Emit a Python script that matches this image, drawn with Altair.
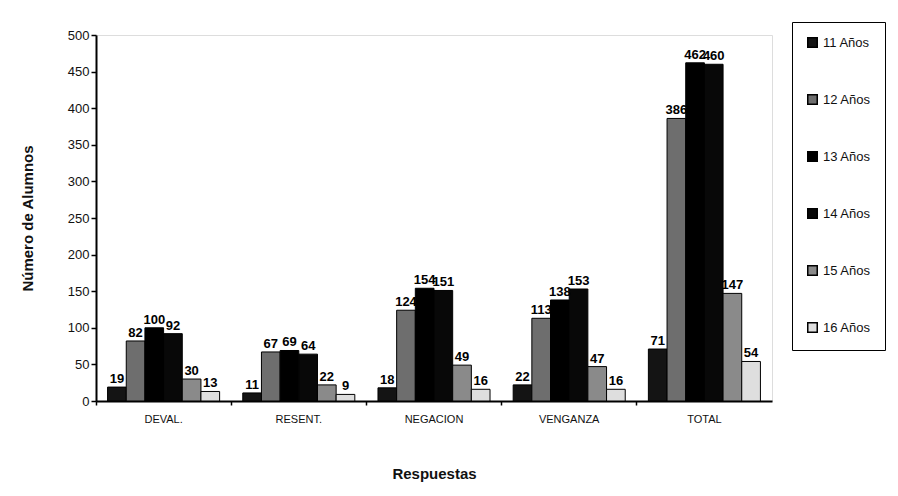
import altair as alt
import pandas as pd

categorias = ["DEVAL.", "RESENT.", "NEGACION", "VENGANZA", "TOTAL"]
series = ["11 Años", "12 Años", "13 Años", "14 Años", "15 Años", "16 Años"]
v11 = [19, 11, 18, 22, 71]
v12 = [82, 67, 124, 113, 386]
v13 = [100, 69, 154, 138, 462]
v14 = [92, 64, 151, 153, 460]
v15 = [30, 22, 49, 47, 147]
v16 = [13, 9, 16, 16, 54]
colores = ["#141414", "#6e6e6e", "#000000", "#080808", "#8a8a8a", "#dedede"]

rows = []
for s, vals in zip(series, [v11, v12, v13, v14, v15, v16]):
    for c, v in zip(categorias, vals):
        rows.append({"Respuesta": c, "Serie": s, "Valor": v})
df = pd.DataFrame(rows)

x = alt.X("Respuesta:N", sort=categorias, title="Respuestas",
          scale=alt.Scale(paddingInner=0, paddingOuter=0),
          axis=alt.Axis(labelAngle=0, labelFont="Liberation Sans", labelFontSize=11,
                        labelColor="#111", labelPadding=8, titleFont="Liberation Sans",
                        titleFontSize=15, titleFontWeight="bold", titleColor="#111",
                        titlePadding=42, domainColor="#000", domainWidth=2,
                        tickColor="#000", tickSize=4, tickWidth=1.5, bandPosition=0))
y = alt.Y("Valor:Q", title="Número de Alumnos",
          scale=alt.Scale(domain=[0, 500]),
          axis=alt.Axis(values=list(range(0, 501, 50)), labelOverlap=False,
                        grid=False, labelFont="Liberation Sans", labelFontSize=13,
                        labelColor="#111", titleFont="Liberation Sans", titleFontSize=15,
                        titleFontWeight="bold", titleColor="#111", titlePadding=32,
                        domainColor="#000", domainWidth=2, tickColor="#000", tickSize=5,
                        tickWidth=1.5))
xoff = alt.XOffset("Serie:N", sort=series,
                   scale=alt.Scale(paddingInner=0, paddingOuter=0.62))
color = alt.Color("Serie:N", sort=series,
                  scale=alt.Scale(domain=series, range=colores),
                  legend=alt.Legend(title=None, orient="none", legendX=696, legendY=-13,
                                    direction="vertical", symbolType="square",
                                    symbolSize=90, symbolStrokeColor="#000",
                                    symbolStrokeWidth=1.5, labelFont="Liberation Sans",
                                    labelFontSize=13, labelColor="#111", rowPadding=40,
                                    padding=14, strokeColor="#000", fillColor="white",
                                    labelLimit=200))

bars = alt.Chart(df).mark_bar(stroke="#000", strokeWidth=1).encode(
    x=x, y=y, color=color, xOffset=xoff,
)
labels = alt.Chart(df).mark_text(dy=-8, font="Liberation Sans", fontSize=13,
                                 fontWeight="bold", color="#000").encode(
    x=x, xOffset=xoff, y=y, text="Valor:Q",
)

chart = (bars + labels).properties(
    width=676, height=366,
    autosize=alt.AutoSizeParams(type="none"),
    padding={"left": 88, "top": 27, "right": 118, "bottom": 87},
).configure_view(stroke="#000", strokeWidth=2, fill="#b9b9b9").configure(background="white")

chart.save("out.html", embed_options={"renderer": "svg", "actions": False})
